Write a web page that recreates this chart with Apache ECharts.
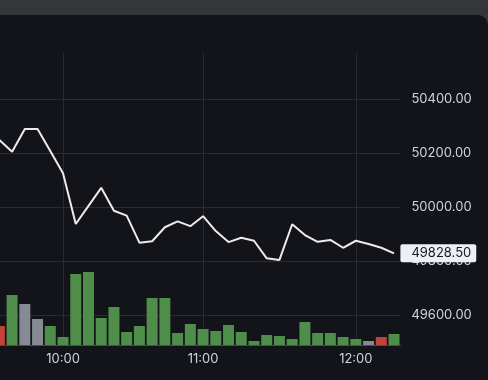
<!DOCTYPE html>
<html>
<head>
<meta charset="utf-8">
<script src="https://cdn.jsdelivr.net/npm/echarts@6/dist/echarts.min.js"></script>
<style>
  html, body { margin: 0; padding: 0; width: 488px; height: 380px; overflow: hidden; background: #353639; }
  #panel { position: absolute; left: -20px; top: 15px; width: 508px; height: 380px; background: #131419; border-top-right-radius: 10px; }
  #chart { position: absolute; left: -7px; top: 0; width: 495px; height: 380px; }
</style>
</head>
<body>
<div id="panel"></div>
<div id="chart"></div>
<script>
// ---- data ----
const categories = ['09:35','09:40','09:45','09:50','09:55','10:00','10:05','10:10','10:15','10:20',
  '10:30','10:35','10:40','10:45','10:50','10:55','11:00','11:05','11:10','11:15',
  '11:20','11:25','11:30','11:35','11:40','11:45','11:50','11:55','12:00','12:05',
  '12:10','12:15'];
const timeTicks = ['10:00', '11:00', '12:00'];
const prices = [50248, 50205, 50289, 50289, 50207, 50125, 49937, 50004, 50071, 49986,
  49968, 49868, 49873, 49925, 49947, 49929, 49966, 49911, 49870, 49886,
  49875, 49810, 49804, 49936, 49896, 49871, 49878, 49849, 49875, 49863,
  49849, 49828.5];
const volumes = [19, 50, 41, 26, 19, 8, 71, 73, 27, 38,
  13, 19, 47, 47, 12, 21, 16, 14, 20, 13,
  4, 10, 9, 6, 23, 12, 12, 8, 6, 4,
  8, 11];
const volumeKinds = ['down','up','flat','flat','up','up','up','up','up','up',
  'up','up','up','up','up','up','up','up','up','up',
  'up','up','up','up','up','up','up','up','up','flat',
  'down','up'];
const priceTicks = { min: 49400, max: 50600, step: 200 };
const lastPrice = prices[prices.length - 1];

// ---- styles ----
const kindColor = { up: '#4e8e4a', down: '#c2433a', flat: '#868a93' };
const gridColor = '#2a2c32';
const textColor = '#d1d4dc';
const font = 'Inter, Roboto, "Noto Sans", sans-serif';
const tickIdx = categories.map((c, i) => timeTicks.includes(c) ? i : -1).filter(i => i >= 0);
const isTick = (i) => tickIdx.includes(i);

const chart = echarts.init(document.getElementById('chart'), null, { renderer: 'canvas' });
chart.setOption({
  backgroundColor: 'transparent',
  animation: false,
  grid: [
    { left: 0, right: 87.6, top: 45, bottom: 11 },
    { left: 0, right: 87.6, top: 53, bottom: 35 }
  ],
  xAxis: [
    { type: 'category', gridIndex: 0, data: categories, boundaryGap: true, show: false },
    {
      type: 'category', gridIndex: 1, data: categories, boundaryGap: true,
      axisLine: { show: true, lineStyle: { color: '#4a4c53', width: 1 } },
      axisTick: { show: false, alignWithLabel: true, interval: (i) => isTick(i) },
      axisLabel: { interval: (i) => isTick(i), color: textColor, fontSize: 13, fontFamily: font, margin: 8 },
      splitLine: { show: true, alignWithLabel: true, interval: (i) => isTick(i), lineStyle: { color: gridColor, width: 1 } }
    }
  ],
  yAxis: [
    {
      type: 'value', gridIndex: 0, position: 'right',
      min: priceTicks.min, max: priceTicks.max, interval: priceTicks.step,
      axisLine: { show: false }, axisTick: { show: false },
      axisLabel: {
        color: textColor, fontSize: 13, fontFamily: font, margin: 11,
        showMinLabel: false, showMaxLabel: false,
        formatter: (v) => v.toFixed(2)
      },
      splitLine: { show: true, showMinLine: false, showMaxLine: false, lineStyle: { color: gridColor, width: 1 } }
    },
    { type: 'value', gridIndex: 1, min: 0, max: 292, show: false, splitLine: { show: false } }
  ],
  series: [
    {
      type: 'bar', xAxisIndex: 1, yAxisIndex: 1, barWidth: 11,
      data: volumes.map((v, i) => ({ value: v, itemStyle: { color: kindColor[volumeKinds[i]] } })),
      z: 1
    },
    {
      type: 'line', xAxisIndex: 0, yAxisIndex: 0, data: prices,
      symbol: 'none', lineStyle: { color: '#ececec', width: 2 }, z: 3,
      markLine: {
        silent: true, symbol: 'none',
        lineStyle: { color: 'rgba(0,0,0,0)', width: 0 },
        data: [{ yAxis: lastPrice }],
        label: {
          show: true, position: 'end', distance: 0,
          formatter: () => lastPrice.toFixed(2),
          backgroundColor: '#eceff4', color: '#131722', fontSize: 13, fontFamily: font,
          lineHeight: 14, padding: [2, 5, 2, 11], borderRadius: 2, opacity: 1
        }
      }
    }
  ]
});
</script>
</body>
</html>
